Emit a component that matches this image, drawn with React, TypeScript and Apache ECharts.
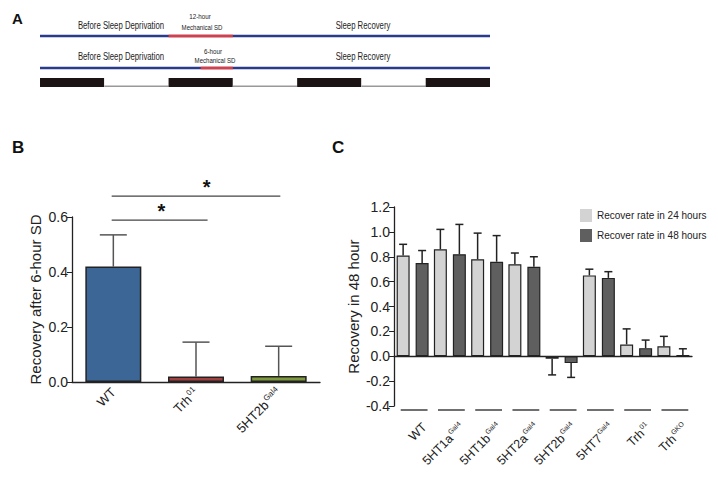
import React, { useEffect, useRef } from 'react';
import * as echarts from 'echarts';

// ---- Panel A: protocol timeline (hours) ----
const timelineHours = [0, 12, 24, 36, 48, 60, 72, 84]; // light/dark phase boundaries, first phase dark
const sdStart = [24, 30]; // mechanical SD start (h) per protocol row
const sdEnd = [36, 36]; // mechanical SD end (h)

// ---- Panel B ----
const bCategories = ['WT', 'Trh', '5HT2b'];
const bSup = ['', '01', 'Gal4'];
const bValues = [0.42, 0.02, 0.022];
const bErrors = [0.115, 0.125, 0.108];
const bColors = ['#3b6695', '#a23f3f', '#7d9b3c'];
// bracket: [from category, to category, height], star position in category units
const bBrackets = [
  [-0.02, 1.14, 0.589],
  [-0.02, 2.02, 0.676],
];
const bStarX = [0.58, 1.13];
const bTicks = [0, 0.2, 0.4, 0.6];

// ---- Panel C ----
const cCategories = ['WT', '5HT1a', '5HT1b', '5HT2a', '5HT2b', '5HT7', 'Trh', 'Trh'];
const cSup = ['', 'Gal4', 'Gal4', 'Gal4', 'Gal4', 'Gal4', '01', 'GKO'];
const c24 = [0.81, 0.86, 0.78, 0.74, -0.02, 0.65, 0.095, 0.08];
const c24Err = [0.09, 0.16, 0.21, 0.09, 0.13, 0.05, 0.125, 0.08];
const c48 = [0.75, 0.82, 0.76, 0.72, -0.055, 0.63, 0.065, 0.01];
const c48Err = [0.1, 0.24, 0.21, 0.08, 0.115, 0.05, 0.065, 0.05];
const cSeriesNames = ['Recover rate in 24 hours', 'Recover rate in 48 hours'];

const FONT = '"Liberation Sans", Arial, sans-serif';

export default function App() {
  const ref = useRef<HTMLDivElement>(null);
  useEffect(() => {
    if (!ref.current) return;
    const chart = echarts.init(ref.current, undefined, { renderer: 'svg' });

    const ldData = timelineHours.slice(0, -1).map((h, i) => [h, timelineHours[i + 1], i % 2 === 0 ? 1 : 0]);
    const protoData = sdStart.map((s, i) => [i, s, sdEnd[i], timelineHours[0], timelineHours[timelineHours.length - 1]]);
    const rowY = [36, 68];

    const cErrData: number[][] = [];
    c24.forEach((v, i) => cErrData.push([i, v, c24Err[i], 0]));
    c48.forEach((v, i) => cErrData.push([i, v, c48Err[i], 1]));

    // pixel x of a fractional category position
    const catX = (api: any, pos: number, y: number) => {
      const r = Math.round(pos);
      const bw = api.size([1, 0])[0];
      const p = api.coord([r, y]);
      return [p[0] + (pos - r) * bw, p[1]];
    };

    const narrowText = (text: string, x: number, y: number, size: number, sx: number) => ({
      type: 'text',
      x,
      y,
      scaleX: sx,
      style: { text, fontSize: size, fill: '#222', align: 'center', verticalAlign: 'middle', fontFamily: FONT },
    });

    const option: any = {
      animation: false,
      backgroundColor: '#ffffff',
      textStyle: { fontFamily: FONT },
      grid: [
        { left: 40, width: 450, top: 0, height: 100 },
        { left: 72, width: 248, top: 217, height: 165 },
        { left: 394, width: 298, top: 207, height: 199 },
      ],
      legend: {
        data: cSeriesNames,
        orient: 'vertical',
        left: 575,
        top: 204,
        icon: 'rect',
        itemWidth: 12,
        itemHeight: 13,
        itemGap: 7,
        itemStyle: { borderWidth: 0 },
        textStyle: { fontSize: 10, color: '#222', fontFamily: FONT },
      },
      xAxis: [
        { gridIndex: 0, type: 'value', min: 0, max: 84, show: false },
        {
          gridIndex: 1,
          type: 'category',
          data: bCategories,
          axisLine: { lineStyle: { color: '#222', width: 1.3 } },
          axisTick: { alignWithLabel: true, length: 5, lineStyle: { color: '#222' } },
          axisLabel: {
            rotate: 45,
            margin: 8,
            formatter: (v: string, i: number) => (bSup[i] ? `{n|${v}}{s|${bSup[i]}}` : `{n|${v}}`),
            rich: {
              n: { fontSize: 13, color: '#222', verticalAlign: 'bottom' },
              s: { fontSize: 8, color: '#222', verticalAlign: 'bottom', padding: [0, 0, 6, 1] },
            },
          },
        },
        {
          gridIndex: 2,
          type: 'category',
          data: cCategories,
          position: 'bottom',
          axisLine: { show: false, onZero: false },
          axisTick: { show: false },
          axisLabel: { show: false },
        },
        {
          gridIndex: 2,
          type: 'category',
          data: cCategories.flatMap((c, i) => [c + i + 'a', c + i + 'b']),
          position: 'bottom',
          axisLine: { onZero: true, lineStyle: { color: '#222', width: 1.3 } },
          axisTick: { alignWithLabel: true, length: 4, lineStyle: { color: '#777' } },
          axisLabel: { show: false },
        },
      ],
      yAxis: [
        { gridIndex: 0, type: 'value', min: 0, max: 100, inverse: true, show: false },
        {
          gridIndex: 1,
          type: 'value',
          min: bTicks[0],
          max: bTicks[bTicks.length - 1],
          interval: 0.2,
          name: 'Recovery after 6-hour SD',
          nameLocation: 'middle',
          nameGap: 29,
          nameTextStyle: { fontSize: 15, color: '#222' },
          splitLine: { show: false },
          axisLine: { show: true, lineStyle: { color: '#222', width: 1.3 } },
          axisTick: { show: true, length: 5, lineStyle: { color: '#222' } },
          axisLabel: { fontSize: 14, color: '#222', margin: 4, formatter: (v: number) => v.toFixed(1) },
        },
        {
          gridIndex: 2,
          type: 'value',
          min: -0.4,
          max: 1.2,
          interval: 0.2,
          name: 'Recovery in 48 hour',
          nameLocation: 'middle',
          nameGap: 33,
          nameTextStyle: { fontSize: 15, color: '#222' },
          splitLine: { show: false },
          axisLine: { show: true, lineStyle: { color: '#222', width: 1.3 } },
          axisTick: { show: true, length: 5, lineStyle: { color: '#222' } },
          axisLabel: { fontSize: 14, color: '#222', margin: 4, formatter: (v: number) => v.toFixed(1) },
        },
      ],
      series: [
        // Panel A light/dark strip
        {
          type: 'custom',
          xAxisIndex: 0,
          yAxisIndex: 0,
          clip: false,
          data: ldData,
          renderItem: (params: any, api: any) => {
            const p0 = api.coord([api.value(0), 78]);
            const p1 = api.coord([api.value(1), 87]);
            const dark = api.value(2) === 1;
            if (dark) {
              return { type: 'rect', shape: { x: p0[0], y: p0[1], width: p1[0] - p0[0], height: p1[1] - p0[1] }, style: { fill: '#1c1414' } };
            }
            return {
              type: 'group',
              children: [
                { type: 'rect', shape: { x: p0[0], y: p0[1], width: p1[0] - p0[0], height: p1[1] - p0[1] }, style: { fill: '#fff' } },
                { type: 'line', shape: { x1: p0[0], y1: p1[1] - 0.7, x2: p1[0], y2: p1[1] - 0.7 }, style: { stroke: '#999', lineWidth: 1.4 } },
              ],
            };
          },
        },
        // Panel A protocol lines
        {
          type: 'custom',
          xAxisIndex: 0,
          yAxisIndex: 0,
          clip: false,
          data: protoData,
          renderItem: (params: any, api: any) => {
            const y = rowY[api.value(0)];
            const a = api.coord([api.value(3), y]);
            const b = api.coord([api.value(4), y]);
            const s = api.coord([api.value(1), y]);
            const e = api.coord([api.value(2), y]);
            return {
              type: 'group',
              children: [
                { type: 'line', shape: { x1: a[0], y1: y, x2: b[0], y2: y }, style: { stroke: '#2a3a8c', lineWidth: 2.6 } },
                { type: 'line', shape: { x1: s[0], y1: y, x2: e[0], y2: y }, style: { stroke: '#e23a3e', lineWidth: 2.6 } },
              ],
            };
          },
        },
        // Panel B bars
        {
          type: 'bar',
          xAxisIndex: 1,
          yAxisIndex: 1,
          barWidth: 56,
          data: bValues.map((v, i) => ({ value: v, itemStyle: { color: bColors[i] } })),
          itemStyle: { borderColor: '#222', borderWidth: 1.5 },
        },
        // Panel B error bars
        {
          type: 'custom',
          xAxisIndex: 1,
          yAxisIndex: 1,
          clip: false,
          z: 1,
          data: bValues.map((v, i) => [i, v, bErrors[i]]),
          renderItem: (params: any, api: any) => {
            const p = api.coord([api.value(0), api.value(1)]);
            const t = api.coord([api.value(0), api.value(1) + api.value(2)]);
            const st = { stroke: '#555', lineWidth: 1.5 };
            return {
              type: 'group',
              children: [
                { type: 'line', shape: { x1: p[0], y1: p[1], x2: t[0], y2: t[1] }, style: st },
                { type: 'line', shape: { x1: t[0] - 13.5, y1: t[1], x2: t[0] + 13.5, y2: t[1] }, style: st },
              ],
            };
          },
        },
        // Panel B significance brackets
        {
          type: 'custom',
          xAxisIndex: 1,
          yAxisIndex: 1,
          clip: false,
          data: bBrackets.map((b, i) => [i, b[2]]),
          renderItem: (params: any, api: any) => {
            const i = api.value(0);
            const h = api.value(1);
            const a = catX(api, bBrackets[i][0], h);
            const b = catX(api, bBrackets[i][1], h);
            const s = catX(api, bStarX[i], h);
            return {
              type: 'group',
              children: [
                { type: 'line', shape: { x1: a[0], y1: a[1], x2: b[0], y2: b[1] }, style: { stroke: '#444', lineWidth: 1.2 } },
                {
                  type: 'text',
                  x: s[0],
                  y: s[1] + 1,
                  style: { text: '*', fontSize: 20, fontWeight: 'bold', fill: '#111', align: 'center', verticalAlign: 'bottom', fontFamily: FONT },
                },
              ],
            };
          },
        },
        // Panel C bars
        {
          type: 'bar',
          name: cSeriesNames[0],
          xAxisIndex: 2,
          yAxisIndex: 2,
          barWidth: 13,
          barGap: '46%',
          data: c24,
          itemStyle: { color: '#d3d3d3', borderColor: '#222', borderWidth: 1.2 },
        },
        {
          type: 'bar',
          name: cSeriesNames[1],
          xAxisIndex: 2,
          yAxisIndex: 2,
          barWidth: 13,
          barGap: '46%',
          data: c48,
          itemStyle: { color: '#5f5f5f', borderColor: '#222', borderWidth: 1.2 },
        },
        // Panel C error bars
        {
          type: 'custom',
          xAxisIndex: 2,
          yAxisIndex: 2,
          clip: false,
          data: cErrData,
          renderItem: (params: any, api: any) => {
            const v = api.value(1);
            const sign = v >= 0 ? 1 : -1;
            const off = api.value(3) === 0 ? -9.5 : 9.5;
            const p = api.coord([api.value(0), v]);
            const t = api.coord([api.value(0), v + sign * api.value(2)]);
            const x = p[0] + off;
            const st = { stroke: '#222', lineWidth: 1.5 };
            return {
              type: 'group',
              children: [
                { type: 'line', shape: { x1: x, y1: p[1], x2: x, y2: t[1] }, style: st },
                { type: 'line', shape: { x1: x - 4, y1: t[1], x2: x + 4, y2: t[1] }, style: st },
              ],
            };
          },
        },
        // Panel C group underlines + rotated category labels
        {
          type: 'custom',
          xAxisIndex: 2,
          yAxisIndex: 2,
          clip: false,
          data: cCategories.map((c, i) => [i, -0.4]),
          renderItem: (params: any, api: any) => {
            const i = api.value(0);
            const p = api.coord([i, api.value(1)]);
            const bw = api.size([1, 0])[0];
            const y = p[1] + 4;
            const label = cSup[i] ? `{n|${cCategories[i]}}{s|${cSup[i]}}` : `{n|${cCategories[i]}}`;
            return {
              type: 'group',
              children: [
                {
                  type: 'line',
                  shape: { x1: p[0] - bw * 0.36 + 1.5, y1: y, x2: p[0] + bw * 0.36 + 1.5, y2: y },
                  style: { stroke: '#222', lineWidth: 1.3 },
                },
                {
                  type: 'text',
                  x: p[0] + 12,
                  y: p[1] + 19,
                  rotation: Math.PI / 4,
                  style: {
                    text: label,
                    align: 'right',
                    verticalAlign: 'middle',
                    fill: '#222',
                    fontFamily: FONT,
                    rich: {
                      n: { fontSize: 12.5, fill: '#222', verticalAlign: 'bottom', fontFamily: FONT },
                      s: { fontSize: 7, fill: '#222', verticalAlign: 'bottom', padding: [0, 0, 7, 1], fontFamily: FONT },
                    },
                  },
                },
              ],
            };
          },
        },
      ],
      graphic: [
        { type: 'text', left: 12, top: 11, style: { text: 'A', fontSize: 15, fontWeight: 'bold', fill: '#111', fontFamily: FONT } },
        { type: 'text', left: 12, top: 139, style: { text: 'B', fontSize: 17, fontWeight: 'bold', fill: '#111', fontFamily: FONT } },
        { type: 'text', left: 332, top: 139, style: { text: 'C', fontSize: 17, fontWeight: 'bold', fill: '#111', fontFamily: FONT } },
        narrowText('Before Sleep Deprivation', 121, 26, 10.5, 0.74),
        narrowText('Sleep Recovery', 363, 26, 10.5, 0.74),
        narrowText('12-hour', 200, 17, 8, 0.78),
        narrowText('Mechanical SD', 202, 28, 8, 0.76),
        narrowText('Before Sleep Deprivation', 121, 57, 10.5, 0.74),
        narrowText('Sleep Recovery', 363, 57, 10.5, 0.74),
        narrowText('6-hour', 213, 52, 8, 0.78),
        narrowText('Mechanical SD', 215, 61, 8, 0.76),
      ],
    };

    chart.setOption(option);
    return () => chart.dispose();
  }, []);

  return <div ref={ref} style={{ position: 'fixed', left: 0, top: 0, width: 718, height: 478, background: '#fff' }} />;
}
